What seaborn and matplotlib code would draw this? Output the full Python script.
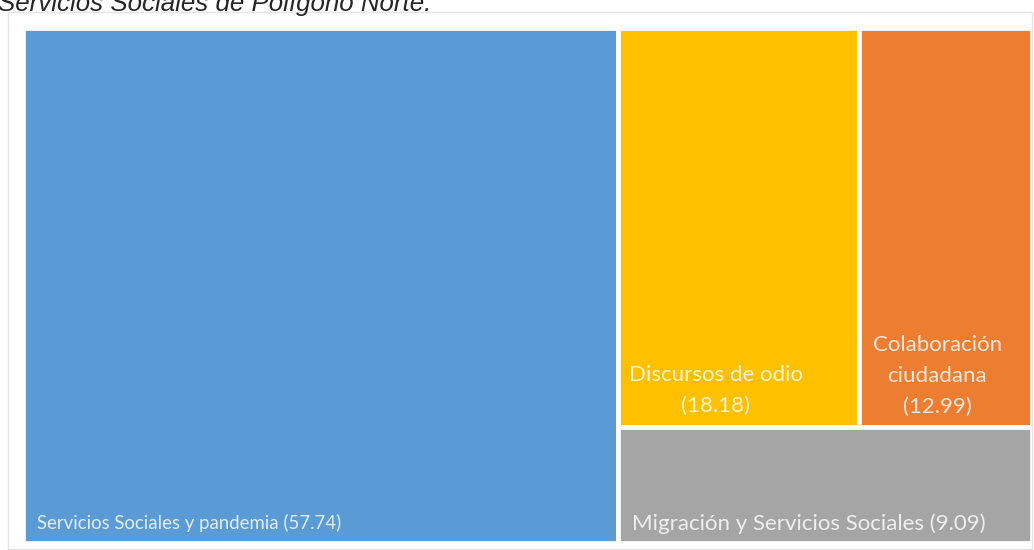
import matplotlib.pyplot as plt
import matplotlib.patches as mpatches
import seaborn as sns

# Data
labels = ['Servicios Sociales y pandemia', 'Discursos de odio',
          'Colaboración\nciudadana', 'Migración y Servicios Sociales']
values = [57.74, 18.18, 12.99, 9.09]
colors = ['#5B9BD5', '#FFC000', '#ED7D31', '#A5A5A5']
title = 'Servicios Sociales de Polígono Norte.'

sns.set_theme(style='white')
plt.rcParams['font.family'] = ['Lato', 'DejaVu Sans']

# Treemap layout: first item full height on the left,
# the rest: top row (items 1,2) and bottom row (item 3)
total = sum(values)
w0 = values[0] / total
rest = total - values[0]
top_h = (values[1] + values[2]) / rest
w1 = (1 - w0) * values[1] / (values[1] + values[2])
rects = [
    (0, 0, w0, 1),
    (w0, 1 - top_h, w1, top_h),
    (w0 + w1, 1 - top_h, (1 - w0) - w1, top_h),
    (w0, 0, 1 - w0, 1 - top_h),
]

W, H = 1034, 550
fig = plt.figure(figsize=(W / 100, H / 100), dpi=100)
fig.patch.set_facecolor('white')

# light frame around the chart
frame = mpatches.Rectangle((8 / W, 0.002), 1024 / W, 1 - 12 / H - 0.002,
                           transform=fig.transFigure, fill=False,
                           edgecolor='#e4e4e4', linewidth=1.0)
fig.patches.append(frame)

fig.text(-0.002, 1 - 11 / H, title, fontsize=18.6, style='italic',
         family=['Liberation Sans', 'DejaVu Sans'], va='baseline', ha='left')

lw = 3.4
half = lw * 100 / 72 / 2
x0, x1, y_top, y_bot = 25 - half, 1030 + half, 30 - half, 541 + half
aw, ah = x1 - x0, y_bot - y_top
ax = fig.add_axes([x0 / W, (H - y_bot) / H, aw / W, ah / H])
ax.set_xlim(0, 1)
ax.set_ylim(0, 1)
ax.axis('off')

for i, (x, y, w, h) in enumerate(rects):
    ax.add_patch(mpatches.Rectangle((x, y), w, h, facecolor=colors[i],
                                    edgecolor='white', linewidth=lw))

# labels (pads in pixels from the visible tile edge)
txt = dict(color='white', alpha=0.82)
pads = [(12, 12), (9, 13), (11, 12), (12, 11)]
sizes = [13.4, 16, 16, 16]
for i, (x, y, w, h) in enumerate(rects):
    px, py = pads[i]
    if i in [0, 3]:
        s = f'{labels[i]} ({values[i]:.2f})'
    else:
        s = f'{labels[i]}\n({values[i]:.2f})'
    ax.text(x + (half + px) / aw, y + (half + py) / ah, s,
            ha='left', va='baseline', multialignment='center',
            linespacing=1.66, fontsize=sizes[i], **txt)

fig.savefig('out.png', dpi=100)
